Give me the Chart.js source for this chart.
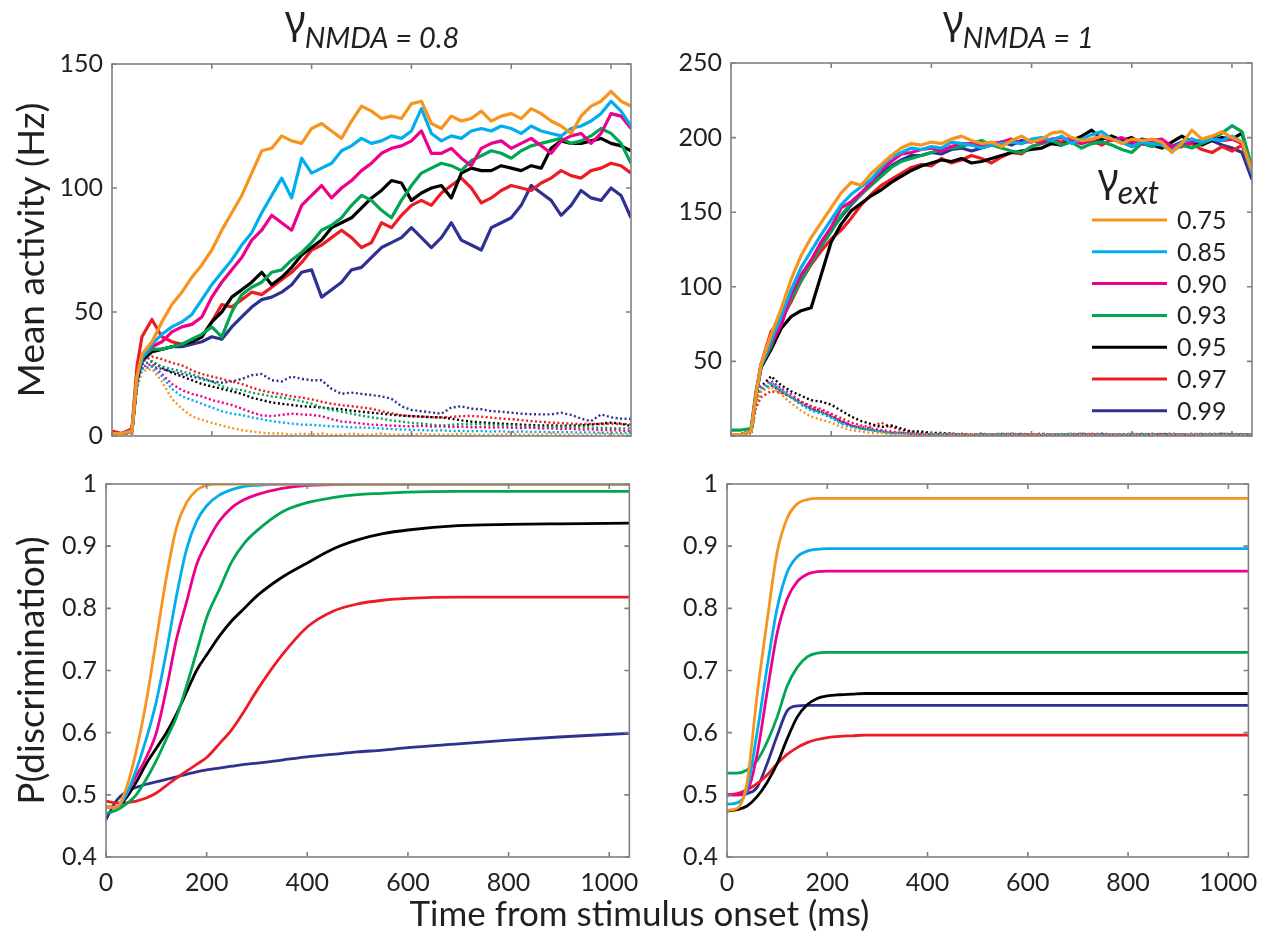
<!DOCTYPE html>
<html>
<head>
<meta charset="utf-8">
<script src="https://cdn.jsdelivr.net/npm/chart.js@4.4.0/dist/chart.umd.min.js"></script>
<style>
  body { margin: 0; background: #fff; }
  #fig { position: relative; width: 1269px; height: 939px; overflow: hidden; }
  #fig canvas { position: absolute; }
  #xTitle {
    position: absolute; left: 5px; top: 891px; width: 1269px; height: 42px;
    line-height: 42px; text-align: center; font: 35px Lato, "DejaVu Sans", sans-serif; color: #231f20;
  }
</style>
</head>
<body>
<div id="fig">
  <canvas id="rateLow" width="650" height="460" style="left:0;top:0"></canvas>
  <canvas id="rateHigh" width="619" height="460" style="left:650px;top:0"></canvas>
  <canvas id="perfLow" width="650" height="470" style="left:0;top:460px"></canvas>
  <canvas id="perfHigh" width="619" height="470" style="left:650px;top:460px"></canvas>
  <div id="xTitle">Time from stimulus onset (ms)</div>
</div>
<script>
// gamma_ext values and their colours
const ext = ['0.75', '0.85', '0.90', '0.93', '0.95', '0.97', '0.99'];
const colors = ['#F7941D', '#00AEEF', '#EC008C', '#00A651', '#000000', '#ED1C24', '#2E3192'];

// time ticks and time bases (ms)
const xTickValues = [0, 200, 400, 600, 800, 1000];
const tRate = [0, 20, 40, 50, 60, 80, 100, 120, 140, 160, 180, 200, 220, 240, 260, 280, 300, 320, 340, 360,
  380, 400, 420, 440, 460, 480, 500, 520, 540, 560, 580, 600, 620, 640, 660, 680, 700, 720, 740, 760,
  780, 800, 820, 840, 860, 880, 900, 920, 940, 960, 980, 1000, 1020, 1040];
const tPerf = [0, 20, 40, 60, 80, 100, 120, 140, 160, 180, 200, 225, 250, 275, 300, 350, 400, 450, 500, 550,
  600, 700, 800, 900, 1040];

// gamma_NMDA = 0.8, winning population (Hz)
const lowWin075 = [1,1,2,24,33,38,46,53,58,64,69,75,83,90,97,106,115,116,121,119,118,124,126,123,120,127,133,131,128,129,128,134,135,126,124,129,127,128,131,127,129,130,128,132,130,127,125,122,129,133,135,139,135,133];
const lowWin085 = [1,1,2,24,31,37,41,44,46,49,55,61,66,71,77,82,90,97,104,96,112,106,108,110,115,117,120,118,119,121,120,123,132,122,119,121,120,123,124,123,125,124,122,125,123,122,121,124,125,127,130,135,131,125];
const lowWin090 = [1,1,2,24,32,36,38,42,44,45,48,56,62,67,72,79,83,89,86,83,93,97,101,96,100,103,107,110,114,116,117,119,123,114,114,116,112,109,116,118,119,116,118,120,117,114,119,121,122,118,122,130,129,124];
const lowWin093 = [1,1,2,24,32,35,35,36,37,39,41,44,40,50,57,60,62,66,67,71,74,78,83,85,88,93,97,95,91,88,95,101,106,108,110,109,107,111,113,115,114,112,115,117,118,119,120,118,119,121,124,122,118,110];
const lowWin095 = [1,1,2,23,31,34,35,36,37,38,40,46,50,56,59,62,66,61,64,68,73,76,79,84,86,88,92,96,99,103,102,95,98,100,101,96,106,108,107,107,109,108,107,109,108,116,119,118,118,119,120,118,117,115];
const lowWin097 = [2,1,3,28,40,47,40,38,37,38,40,46,53,52,55,58,57,60,63,66,70,75,77,80,83,80,76,78,86,84,89,93,95,93,98,101,104,100,94,96,99,101,100,99,102,104,107,105,104,107,108,110,109,106];
const lowWin099 = [1,1,2,22,30,34,35,36,36,37,38,40,39,44,48,52,55,56,58,61,66,67,56,59,62,67,68,72,76,78,80,84,80,76,80,86,79,77,75,84,86,88,93,101,98,95,89,93,99,96,95,100,97,88];

// gamma_NMDA = 0.8, losing population (Hz)
const lowLose075 = [1,1,1,20,26,27,22,15,11,8,6.5,5.3,4.2,3.2,2.4,1.8,1.3,1,1,0.5,1,0.5,1,0.5,0.5,1,0.5,0.5,1,0.5,0.5,0.5,1,0.5,0.5,0.5,1,0.5,0.5,0.5,0.5,1,0.5,0.5,0.5,1,0.5,0.5,0.5,0.5,1,0.5,0.5,0.5];
const lowLose085 = [1,1,1,20,27,28,24,19,16,14.5,13,11.5,10,9,8.5,7.5,6.8,6,5.5,5,4.6,4.5,4.2,3.9,3.8,3.5,3.4,3.3,3,2.8,2.6,2.5,2.4,2.2,2.3,2,2.1,1.9,2,1.8,1.9,1.7,1.8,1.6,1.7,1.5,1.6,1.5,1.4,1.5,1.3,1.4,1.2,1.3];
const lowLose090 = [1,1,1,21,28,29,25,21,18.5,17,16,14.5,13.5,12.5,11,9.5,8.3,8,8.5,9,8.7,8.5,8,6.8,5.8,5.5,5,4.6,4.4,4.2,4,3.9,4.1,3.8,3.9,3.6,3.8,3.5,3.6,3.4,3.5,3.3,3.2,3.4,3,3.1,2.8,2.9,2.6,2.7,2.4,2.5,2.2,2];
const lowLose093 = [1,1,1,21,29,30,28,27,26,25,23.5,22,20,19,18.5,17.5,16.8,16,15.5,14.8,14,13,11.5,10.5,9.8,9,8.2,7.5,7,6.3,5.8,5.3,5,4.6,4.2,4.5,4.8,4.7,4.8,4.5,4.3,4.2,4,3.8,3.7,3.6,3.7,3.5,3.6,3.4,3.3,3.2,3.1,3];
const lowLose095 = [1,1,1,21,29,30,27.5,25.5,24,22.5,21,20,19,18,17,15.5,14.5,13.5,13,12.5,12,11.8,11.5,11,10.8,10.2,9.8,9.4,9,8.6,8.2,8,7.8,7.6,7.5,7,6.3,5.8,5.5,5.2,5,4.8,4.6,4.4,4.2,4.3,4.1,4.2,4.2,4.6,5,5.4,5,4];
const lowLose097 = [1,1,1,22,30,32,31,29.5,28.5,26.5,25,24,23,22,21,19.5,18.3,17.5,16.8,16,15.5,14.8,13.8,13,12.4,12,11.5,11,10,9.2,8.4,8,7.8,7.6,7.5,7.7,8,8.1,7.8,7.4,7,6.8,6.4,6,5.7,5.4,5.2,5,4.8,4.9,4.8,5,4.8,4.8];
const lowLose099 = [1,1,1,19,27,28,27,26,25,24,23,22,21.5,22,23,24.5,25,22.5,22,24,23,22.5,22.5,19,17,17.5,17,16.5,16,15,12,10.5,10,9.5,9,11.5,12,11,10.8,10,9.8,9.4,9,8.8,8.7,8.7,9.4,8.5,7,6,8.7,7.5,7,6.8];

// gamma_NMDA = 1, winning population (Hz)
const highWin075 = [1,1,3,28,48,68,85,105,121,133,143,153,163,170,168,176,182,188,193,196,195,197,196,199,201,198,196,197,194,198,201,197,199,203,204,200,198,199,201,199,196,199,198,199,197,190,196,205,199,201,204,200,197,178];
const highWin085 = [1,1,3,27,47,64,80,98,113,124,135,145,155,162,167,172,180,187,190,193,192,194,193,197,196,195,193,195,196,197,196,199,200,198,201,196,199,202,204,199,197,194,197,196,195,191,197,199,197,199,198,201,197,176];
const highWin090 = [1,1,3,28,48,62,74,95,108,118,130,140,153,157,163,170,178,184,189,190,192,193,191,194,196,196,195,196,197,199,196,198,197,199,200,198,196,199,201,198,200,197,196,198,199,194,196,197,198,200,198,199,196,177];
const highWin093 = [4,4,5,30,47,60,77,92,104,116,127,137,148,156,162,168,174,180,184,186,188,190,192,193,194,196,198,195,193,191,190,194,196,198,195,197,193,196,197,195,192,190,196,194,197,191,195,193,196,199,203,208,204,180];
const highWin095 = [1,1,3,27,46,58,72,80,84,86,108,130,142,151,156,161,165,170,174,178,181,183,185,184,186,183,184,186,188,190,191,192,193,196,195,198,201,205,199,201,198,200,196,195,193,197,201,197,195,198,200,199,203,178];
const highWin097 = [1,1,3,29,48,70,78,90,104,115,124,132,138,146,155,162,168,172,176,180,182,181,186,183,185,188,186,183,187,190,189,194,196,198,197,200,196,198,195,199,197,194,196,198,195,193,194,196,192,190,194,191,195,176];
const highWin099 = [1,1,3,27,47,63,75,93,107,116,128,138,147,155,162,170,176,181,185,188,188,190,189,192,193,191,193,195,197,195,198,197,200,198,196,199,198,197,199,201,198,196,199,198,196,194,197,199,196,198,195,193,190,172];

// gamma_NMDA = 1, losing population (Hz)
const highLose075 = [1,1,1,22,30,33,28,22,17,13,11,9,6,4,3,2,2,1,1,1,0.5,1,0.5,1,0.5,1,0.5,1,0.5,1,0.5,1,0.5,1,0.5,1,0.5,1,0.5,1,0.5,1,0.5,1,0.5,1,0.5,1,0.5,1,0.5,1,0.5,1];
const highLose085 = [1,1,1,23,32,36,31,26,21,17,15,12,8,6,5,4,3,2,2,1,1,1,1.5,1,1,0.5,1,1,1.5,1,1,0.5,1,1,1,1.5,1,0.5,1,1,1,1.5,1,1,0.5,1,1,1,1.5,1,1,0.5,1,1];
const highLose090 = [1,1,1,24,33,37,32,28,23,19,17,14,10,7,6,5,4,3,2,2,1.5,1,1,1.5,1,1,1,0.5,1,1.5,1,1,1,1,0.5,1,1.5,1,1,1,1,1.5,1,0.5,1,1,1,1.5,1,1,1,0.5,1,1];
const highLose093 = [1,1,1,22,31,35,30,26,22,18,16,13,9,7,5,4,3,2,2,1.5,1,1,1.5,1,0.5,1,1,1,1.5,1,1,1,0.5,1,1,1.5,1,1,1,0.5,1,1,1.5,1,1,1,0.5,1,1,1,1.5,1,1,1];
const highLose095 = [1,1,1,24,33,40,34,30,27,24,23,21,17,13,10,8,6,7,5,3,3,2,2,1.5,1,1,1.5,1,1,0.5,1,1,1.5,1,1,1,0.5,1,1.5,1,1,1,1,0.5,1,1.5,1,1,1,1.5,1,0.5,1,1];
const highLose097 = [1,1,1,19,26,30,29,26,23,20,18,15,12,9,7,6,9,6,4,2.5,2,1.5,1,1,1.5,1,1,0.5,1,1,1.5,1,1,1,0.5,1,1,1.5,1,1,1,1,0.5,1,1.5,1,1,1,1,0.5,1,1.5,1,1];
const highLose099 = [1,1,1,22,30,34,30,26,21,18,16,13,10,7,5,4,3,2,2,1.5,1,1,1,1.5,1,0.5,1,1,1,1.5,1,1,0.5,1,1,1,1.5,1,1,1,0.5,1,1,1.5,1,1,1,0.5,1,1,1.5,1,1,1];

// P(discrimination), gamma_NMDA = 0.8
const lowPerf075 = [0.48,0.48,0.51,0.57,0.65,0.75,0.85,0.93,0.97,0.99,0.998,1,1,1,1,1,1,1,1,1,1,1,1,1,1];
const lowPerf085 = [0.48,0.48,0.50,0.54,0.59,0.65,0.73,0.82,0.895,0.94,0.965,0.982,0.991,0.996,0.998,1,1,1,1,1,1,1,1,1,1];
const lowPerf090 = [0.48,0.48,0.50,0.53,0.56,0.60,0.67,0.75,0.81,0.87,0.905,0.94,0.962,0.975,0.983,0.993,0.998,0.999,1,1,1,1,1,1,1];
const lowPerf093 = [0.47,0.475,0.485,0.50,0.525,0.555,0.59,0.625,0.675,0.73,0.785,0.83,0.875,0.905,0.925,0.955,0.97,0.978,0.983,0.985,0.987,0.988,0.988,0.988,0.988];
const lowPerf095 = [0.48,0.48,0.495,0.52,0.55,0.575,0.60,0.63,0.665,0.70,0.725,0.755,0.78,0.80,0.82,0.85,0.873,0.895,0.91,0.92,0.926,0.933,0.935,0.936,0.937];
const lowPerf097 = [0.49,0.487,0.487,0.49,0.495,0.503,0.515,0.527,0.538,0.549,0.56,0.582,0.605,0.635,0.668,0.725,0.77,0.795,0.807,0.813,0.816,0.818,0.818,0.818,0.818];
const lowPerf099 = [0.46,0.49,0.505,0.512,0.517,0.521,0.525,0.529,0.533,0.537,0.54,0.543,0.546,0.549,0.551,0.556,0.561,0.565,0.569,0.572,0.576,0.582,0.588,0.593,0.599];

// P(discrimination), gamma_NMDA = 1
const highPerf075 = [0.475,0.478,0.52,0.66,0.78,0.89,0.945,0.968,0.975,0.977,0.977,0.977,0.977,0.977,0.977,0.977,0.977,0.977,0.977,0.977,0.977,0.977,0.977,0.977,0.977];
const highPerf085 = [0.485,0.487,0.51,0.60,0.705,0.80,0.858,0.883,0.892,0.895,0.896,0.896,0.896,0.896,0.896,0.896,0.896,0.896,0.896,0.896,0.896,0.896,0.896,0.896,0.896];
const highPerf090 = [0.50,0.50,0.505,0.565,0.665,0.76,0.815,0.843,0.855,0.859,0.86,0.86,0.86,0.86,0.86,0.86,0.86,0.86,0.86,0.86,0.86,0.86,0.86,0.86,0.86];
const highPerf093 = [0.535,0.535,0.54,0.555,0.585,0.625,0.675,0.705,0.722,0.728,0.729,0.729,0.729,0.729,0.729,0.729,0.729,0.729,0.729,0.729,0.729,0.729,0.729,0.729,0.729];
const highPerf095 = [0.474,0.476,0.482,0.497,0.52,0.55,0.59,0.625,0.645,0.655,0.659,0.661,0.662,0.663,0.663,0.663,0.663,0.663,0.663,0.663,0.663,0.663,0.663,0.663,0.663];
const highPerf097 = [0.50,0.502,0.508,0.518,0.532,0.55,0.565,0.576,0.584,0.589,0.592,0.594,0.595,0.596,0.596,0.596,0.596,0.596,0.596,0.596,0.596,0.596,0.596,0.596,0.596];
const highPerf099 = [0.50,0.50,0.502,0.512,0.55,0.595,0.635,0.643,0.644,0.644,0.644,0.644,0.644,0.644,0.644,0.644,0.644,0.644,0.644,0.644,0.644,0.644,0.644,0.644,0.644];

const lowWin = [lowWin075, lowWin085, lowWin090, lowWin093, lowWin095, lowWin097, lowWin099];
const lowLose = [lowLose075, lowLose085, lowLose090, lowLose093, lowLose095, lowLose097, lowLose099];
const highWin = [highWin075, highWin085, highWin090, highWin093, highWin095, highWin097, highWin099];
const highLose = [highLose075, highLose085, highLose090, highLose093, highLose095, highLose097, highLose099];
const lowPerf = [lowPerf075, lowPerf085, lowPerf090, lowPerf093, lowPerf095, lowPerf097, lowPerf099];
const highPerf = [highPerf075, highPerf085, highPerf090, highPerf093, highPerf095, highPerf097, highPerf099];

const FONT = 'Lato, "DejaVu Sans", sans-serif';
const GREEK = '"Noto Sans", "DejaVu Sans", sans-serif';
const INK = '#231f20';

const points = (t, vals) => vals.map((v, i) => ({ x: t[i], y: v }));

// solid = winning pool, dotted = losing pool
function rateSets(win, lose) {
  const solid = win.map((v, i) => ({
    label: ext[i], data: points(tRate, v), borderColor: colors[i],
    borderWidth: 3.2, pointRadius: 0, tension: 0, borderJoinStyle: 'round'
  }));
  const dotted = lose.map((v, i) => ({
    label: ext[i] + ' lose', data: points(tRate, v), borderColor: colors[i],
    borderWidth: 2.4, pointRadius: 0, tension: 0, borderDash: [2, 2.5]
  }));
  return solid.concat(dotted);
}

function perfSets(perf) {
  return perf.map((v, i) => ({
    label: ext[i], data: points(tPerf, v), borderColor: colors[i],
    borderWidth: 2.8, pointRadius: 0, cubicInterpolationMode: 'monotone'
  }));
}

// full box around the plot area with inward tick marks on all four sides
const boxAxes = {
  id: 'boxAxes',
  afterDatasetsDraw(chart) {
    const { ctx, chartArea: a, scales: { x, y } } = chart;
    ctx.save();
    ctx.strokeStyle = '#808080';
    ctx.lineWidth = 1.6;
    ctx.strokeRect(a.left, a.top, a.right - a.left, a.bottom - a.top);
    ctx.beginPath();
    for (const t of x.ticks) {
      const px = x.getPixelForValue(t.value);
      ctx.moveTo(px, a.bottom); ctx.lineTo(px, a.bottom - 5);
      ctx.moveTo(px, a.top); ctx.lineTo(px, a.top + 5);
    }
    for (const t of y.ticks) {
      const py = y.getPixelForValue(t.value);
      ctx.moveTo(a.left, py); ctx.lineTo(a.left + 5, py);
      ctx.moveTo(a.right, py); ctx.lineTo(a.right - 5, py);
    }
    ctx.stroke();
    ctx.restore();
  }
};

// "γ NMDA = ..." heading
const panelTitle = {
  id: 'panelTitle',
  afterDraw(chart, args, opts) {
    if (!opts.text) return;
    const ctx = chart.ctx;
    ctx.save();
    ctx.fillStyle = INK;
    ctx.textBaseline = 'alphabetic';
    ctx.font = '40px ' + GREEK;
    ctx.fillText('γ', opts.x, opts.y);
    const w = ctx.measureText('γ').width;
    ctx.font = 'italic 29px ' + FONT;
    ctx.fillText(opts.text, opts.x + w - 1, opts.y + 14);
    ctx.restore();
  }
};

// γext legend inside the top right panel
const extLegend = {
  id: 'extLegend',
  afterDraw(chart, args, opts) {
    if (!opts.show) return;
    const ctx = chart.ctx;
    ctx.save();
    ctx.fillStyle = INK;
    ctx.textBaseline = 'alphabetic';
    ctx.font = '40px ' + GREEK;
    ctx.fillText('γ', opts.x + 6, opts.y);
    const w = ctx.measureText('γ').width;
    ctx.font = 'italic 32px ' + FONT;
    ctx.fillText('ext', opts.x + 6 + w - 1, opts.y + 12);
    const rows = chart.data.datasets.filter(d => !d.borderDash);
    ctx.font = '25px ' + FONT;
    ctx.textBaseline = 'middle';
    rows.forEach((d, i) => {
      const y = opts.rowY + i * opts.step;
      ctx.strokeStyle = d.borderColor;
      ctx.lineWidth = 3;
      ctx.beginPath();
      ctx.moveTo(opts.x, y);
      ctx.lineTo(opts.x + 75, y);
      ctx.stroke();
      ctx.fillText(d.label, opts.x + 85, y + 1);
    });
    ctx.restore();
  }
};

function makePanel(id, datasets, cfg) {
  const tickFont = { family: FONT, size: 25 };
  return new Chart(document.getElementById(id), {
    type: 'line',
    data: { datasets },
    plugins: [boxAxes, panelTitle, extLegend],
    options: {
      responsive: false,
      animation: false,
      devicePixelRatio: 1,
      events: [],
      layout: { autoPadding: false, padding: { top: cfg.padTop, right: cfg.padRight, left: 0, bottom: 0 } },
      scales: {
        x: {
          type: 'linear', min: 0, max: 1040,
          afterBuildTicks: s => { s.ticks = xTickValues.map(v => ({ value: v })); },
          afterFit: s => { s.height = cfg.xHeight; },
          ticks: {
            display: cfg.xLabels, autoSkip: false, maxRotation: 0, padding: 11,
            font: tickFont, color: INK, callback: v => String(v)
          },
          grid: { display: false, drawTicks: false },
          border: { display: false }
        },
        y: {
          min: cfg.yMin, max: cfg.yMax,
          afterFit: s => { s.width = cfg.yWidth; },
          ticks: {
            stepSize: cfg.yStep, padding: 9, font: tickFont, color: INK,
            callback: v => (cfg.hideZero && v === 0) ? '' : String(+v.toFixed(1))
          },
          grid: { display: false, drawTicks: false },
          border: { display: false },
          title: {
            display: !!cfg.yTitle, text: cfg.yTitle || '', color: INK,
            font: { family: FONT, size: 37 }, padding: { top: 10, bottom: 0 }
          }
        }
      },
      plugins: {
        legend: { display: false },
        tooltip: { enabled: false },
        panelTitle: cfg.title || {},
        extLegend: cfg.legend || {}
      }
    }
  });
}

makePanel('rateLow', rateSets(lowWin, lowLose), {
  padTop: 64, padRight: 19, xHeight: 15, yWidth: 112, xLabels: false,
  yMin: 0, yMax: 150, yStep: 50, yTitle: 'Mean activity (Hz)',
  title: { text: 'NMDA = 0.8', x: 285, y: 34 }
});

makePanel('rateHigh', rateSets(highWin, highLose), {
  padTop: 63, padRight: 17, xHeight: 18, yWidth: 81, xLabels: false,
  yMin: 0, yMax: 250, yStep: 50, hideZero: true,
  title: { text: 'NMDA = 1', x: 293, y: 34 },
  legend: { show: true, x: 442, y: 192, rowY: 220, step: 31.8 }
});

makePanel('perfLow', perfSets(lowPerf), {
  padTop: 15, padRight: 20, xHeight: 73, yWidth: 106, xLabels: true,
  yMin: 0.4, yMax: 1, yStep: 0.1, yTitle: 'P(discrimination)'
});

makePanel('perfHigh', perfSets(highPerf), {
  padTop: 15, padRight: 17, xHeight: 73, yWidth: 77, xLabels: true,
  yMin: 0.4, yMax: 1, yStep: 0.1
});
</script>
</body>
</html>
